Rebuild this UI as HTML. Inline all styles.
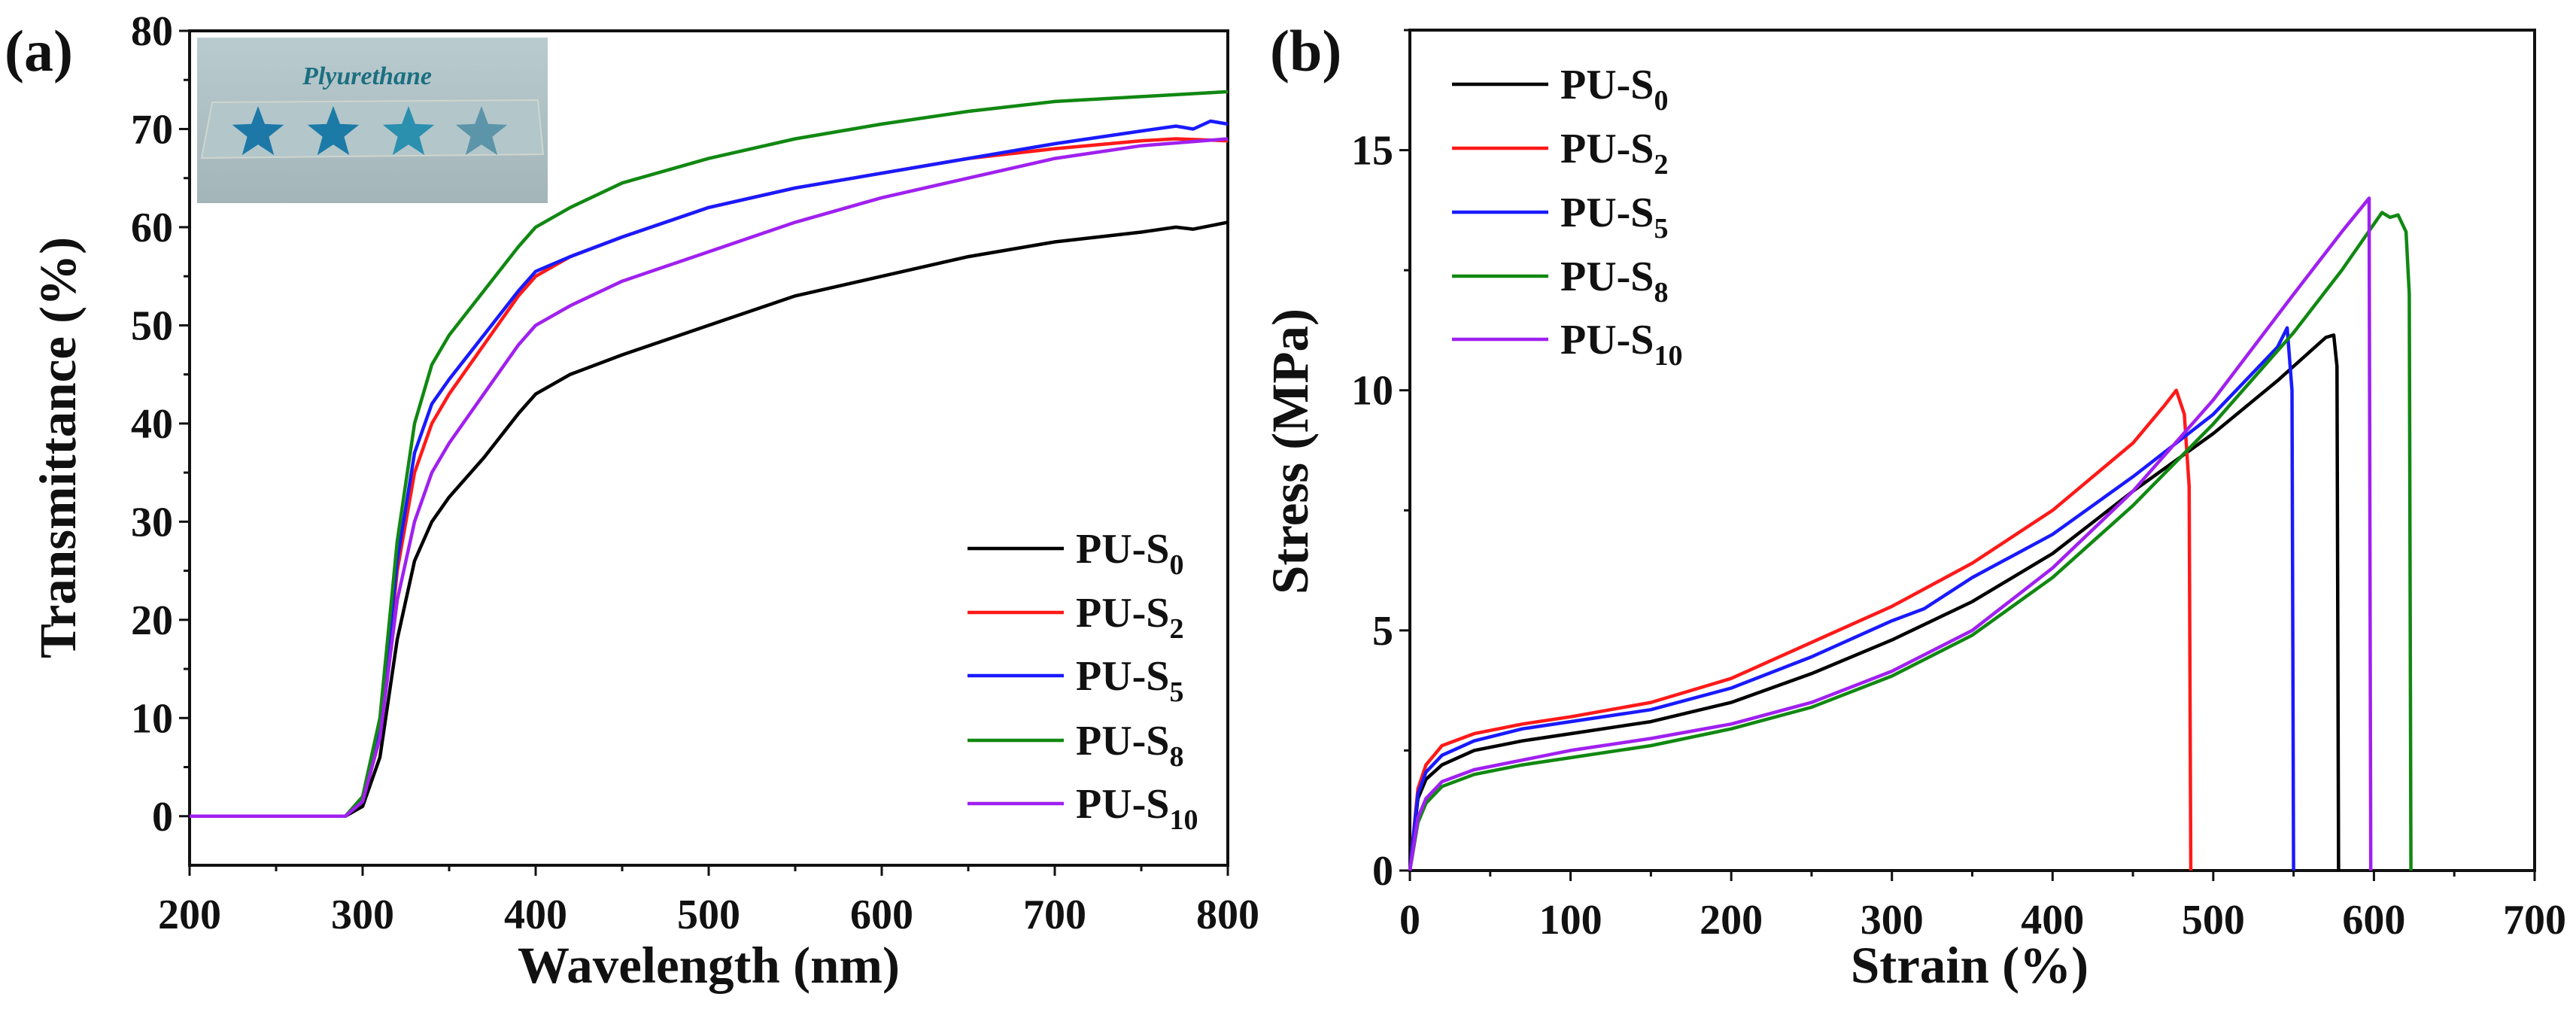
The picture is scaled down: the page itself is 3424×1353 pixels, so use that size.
<!DOCTYPE html>
<html><head><meta charset="utf-8"><style>
html,body{margin:0;padding:0;background:#fff;}
svg{display:block;}
text{font-family:"Liberation Serif",serif;font-weight:bold;fill:#111;}
</style></head><body>
<svg id="fig" width="3424" height="1353" viewBox="0 0 3424 1353" xmlns="http://www.w3.org/2000/svg">
<g id="pa"></g>
<g id="pb"></g>
</svg>
<script>
// ---- Panel (a) data: wavelength (nm) vs transmittance (%)
const seriesNames = ["PU-S0","PU-S2","PU-S5","PU-S8","PU-S10"];
const seriesSubs = ["0","2","5","8","10"];
const seriesColors = ["#000000","#ff1a1a","#1a1aff","#118811","#a020f0"];
const wlS0 = [200,290,300,310,320,330,340,350,370,390,400,420,450,500,550,600,650,700,750,770,780,800];
const tS0  = [0,0,1,6,18,26,30,32.5,36.5,41,43,45,47,50,53,55,57,58.5,59.5,60,59.8,60.5];
const wlS2 = [200,290,300,310,320,330,340,350,370,390,400,420,450,500,550,600,650,700,750,770,800];
const tS2  = [0,0,1.5,8,25,35,40,43,48,53,55,57,59,62,64,65.5,67,68,68.8,69,68.8];
const wlS5 = [200,290,300,310,320,330,340,350,370,390,400,420,450,500,550,600,650,700,750,770,780,790,800];
const tS5  = [0,0,1.5,8.5,26,37,42,44.5,49,53.5,55.5,57,59,62,64,65.5,67,68.5,69.8,70.3,70,70.8,70.5];
const wlS8 = [200,290,300,310,320,330,340,350,370,390,400,420,450,500,550,600,650,700,750,800];
const tS8  = [0,0,2,10,28,40,46,49,53.5,58,60,62,64.5,67,69,70.5,71.8,72.8,73.3,73.8];
const wlS10= [200,290,300,310,320,330,340,350,370,390,400,420,450,500,550,600,650,700,750,800];
const tS10 = [0,0,1.5,8,22,30,35,38,43,48,50,52,54.5,57.5,60.5,63,65,67,68.3,69];
const xTicksA = [200,300,400,500,600,700,800];
const yTicksA = [0,10,20,30,40,50,60,70,80];

// ---- Panel (b) data: strain (%) vs stress (MPa)
const eS0 = [0,5,10,20,40,70,100,150,200,250,300,350,400,450,500,540,570,575,577,578];
const sS0 = [0,1.5,1.9,2.2,2.5,2.7,2.85,3.1,3.5,4.1,4.8,5.6,6.6,7.9,9.1,10.2,11.1,11.15,10.5,0];
const eS2 = [0,5,10,20,40,70,100,150,200,250,300,350,400,450,470,477,482,485,486];
const sS2 = [0,1.7,2.2,2.6,2.85,3.05,3.2,3.5,4.0,4.75,5.5,6.4,7.5,8.9,9.7,10.0,9.5,8,0];
const eS5 = [0,5,10,20,40,70,100,150,200,250,300,320,350,400,450,500,540,546,549,550];
const sS5 = [0,1.6,2.05,2.4,2.7,2.95,3.1,3.35,3.8,4.45,5.2,5.45,6.1,7.0,8.2,9.5,10.9,11.3,10,0];
const eS8 = [0,5,10,20,40,70,100,150,200,250,300,350,400,450,500,550,580,605,610,615,620,622,623];
const sS8 = [0,1.0,1.4,1.75,2.0,2.2,2.35,2.6,2.95,3.4,4.05,4.9,6.1,7.6,9.3,11.2,12.5,13.7,13.6,13.65,13.3,12,0];
const eS10= [0,5,10,20,40,70,100,150,200,250,300,350,400,450,500,550,580,597,598];
const sS10= [0,1.1,1.5,1.85,2.1,2.3,2.5,2.75,3.05,3.5,4.15,5.0,6.3,7.9,9.8,12.0,13.3,14.0,0];
const xTicksB = [0,100,200,300,400,500,600,700];
const yTicksB = [0,5,10,15];

const NS="http://www.w3.org/2000/svg";
function mk(parent,tag,attrs){const e=document.createElementNS(NS,tag);for(const k in attrs)e.setAttribute(k,attrs[k]);parent.appendChild(e);return e;}

function panel(g,o){
  const sx=v=>o.x0+(v-o.xmin)/(o.xmax-o.xmin)*(o.x1-o.x0);
  const sy=v=>o.y1-(v-o.ymin)/(o.ymax-o.ymin)*(o.y1-o.y0);
  const fr=mk(g,'rect',{x:o.x0,y:o.y0,width:o.x1-o.x0,height:o.y1-o.y0,fill:'none',stroke:'#111','stroke-width':4});
  
  
  if(o.inset) o.inset(g);
  for(let v=o.xmin; v<=o.xmax+1e-9; v+=o.xminor){
    const major=o.xticks.some(t=>Math.abs(t-v)<1e-6);
    mk(g,'line',{x1:sx(v),x2:sx(v),y1:o.y1,y2:o.y1+(major?14:8),stroke:'#111','stroke-width':3});
  }
  o.xticks.forEach(v=>{
    const t=mk(g,'text',{x:sx(v),y:o.y1+84,'text-anchor':'middle','font-size':56});
    t.textContent=v;
    
    
  });
  for(let v=o.yminTick; v<=o.ymax+1e-9; v+=o.yminor){
    const major=o.yticks.some(t=>Math.abs(t-v)<1e-6);
    mk(g,'line',{x1:o.x0,x2:o.x0-(major?14:8),y1:sy(v),y2:sy(v),stroke:'#111','stroke-width':3});
  }
  o.yticks.forEach(v=>{
    const t=mk(g,'text',{x:o.x0-22,y:sy(v)+19,'text-anchor':'end','font-size':56});
    t.textContent=v;
    
    
  });
  o.series.forEach((s,i)=>{
    const d=s.x.map((v,j)=>(j?'L':'M')+sx(v).toFixed(1)+','+sy(s.y[j]).toFixed(1)).join('');
    const p=mk(g,'path',{d:d,fill:'none',stroke:seriesColors[i],'stroke-width':4.5,'stroke-linejoin':'round'});
    
    
  });
  o.legY.forEach((ly,i)=>{
    const l=mk(g,'line',{x1:o.legX,x2:o.legX+128,y1:ly,y2:ly,stroke:seriesColors[i],'stroke-width':4.5});
    
    
    const t=mk(g,'text',{x:o.legX+144,y:ly+19,'font-size':56});
    
    
    t.appendChild(document.createTextNode('PU-S'));
    const sub=mk(t,'tspan',{'font-size':38,dy:15});
    sub.textContent=seriesSubs[i];
  });
  const xt=mk(g,'text',{x:o.xtX,y:1306,'text-anchor':'middle','font-size':69});
  xt.textContent=o.xtitle;
  
  
  const yt=mk(g,'text',{x:0,y:0,'text-anchor':'middle','font-size':69,transform:`translate(${o.ytX},${o.ytY}) rotate(-90)`});
  yt.textContent=o.ytitle;
  
  
  const pl=mk(g,'text',{x:o.plX,y:94,'font-size':78});
  pl.textContent=o.plabel;
  
  
}

function starPath(cx,cy,r){
  let d='';
  for(let k=0;k<10;k++){const rr=k%2?r*0.42:r;const a=-Math.PI/2+k*Math.PI/5;d+=(k?'L':'M')+(cx+rr*Math.cos(a)).toFixed(1)+','+(cy+rr*Math.sin(a)).toFixed(1);}
  return d+'Z';
}

panel(document.getElementById('pa'),{
  x0:252,x1:1632,y0:41,y1:1150,xmin:200,xmax:800,ymin:-5,ymax:80,yminTick:0,
  xticks:xTicksA,yticks:yTicksA,xminor:50,yminor:5,
  series:[{x:wlS0,y:tS0},{x:wlS2,y:tS2},{x:wlS5,y:tS5},{x:wlS8,y:tS8},{x:wlS10,y:tS10}],
  legX:1286,legY:[729,814,898,984,1068],
  xtitle:'Wavelength (nm)',xtX:942,ytitle:'Transmittance (%)',ytX:100,ytY:595,plabel:'(a)',plX:6,
  inset:function(g){
    const ig=mk(g,'g',{});
    
    
    const defs=mk(ig,'defs',{});
    const lg=mk(defs,'linearGradient',{id:'ibg',x1:0,y1:0,x2:0,y2:1});
    mk(lg,'stop',{offset:0,'stop-color':'#b9cbcf'});
    mk(lg,'stop',{offset:1,'stop-color':'#a3b5b9'});
    mk(ig,'rect',{x:262,y:50,width:466,height:220,fill:'url(#ibg)'});
    const it=mk(ig,'text',{x:488,y:112,'text-anchor':'middle','font-size':34,'font-style':'italic',style:'fill:#1b6f80'});
    it.textContent='Plyurethane';
    mk(ig,'polygon',{points:'282,136 715,133 722,205 268,210',fill:'#b3c6ca',stroke:'#cfd5cf','stroke-width':2});
    const sc=['#1d78a8','#1c7aa6','#2a90ae','#5c95aa'];
    [343,443,543,640].forEach((cx,k)=>mk(ig,'path',{d:starPath(cx,177,36),fill:sc[k]}));
  }
});

panel(document.getElementById('pb'),{
  x0:1874,x1:3369,y0:40,y1:1157,xmin:0,xmax:700,ymin:0,ymax:17.5,yminTick:0,
  xticks:xTicksB,yticks:yTicksB,xminor:50,yminor:2.5,
  series:[{x:eS0,y:sS0},{x:eS2,y:sS2},{x:eS5,y:sS5},{x:eS8,y:sS8},{x:eS10,y:sS10}],
  legX:1930,legY:[112,197,282,367,451],
  xtitle:'Strain (%)',xtX:2618,ytitle:'Stress (MPa)',ytX:1738,ytY:600,plabel:'(b)',plX:1688
});
</script>
</body></html>
